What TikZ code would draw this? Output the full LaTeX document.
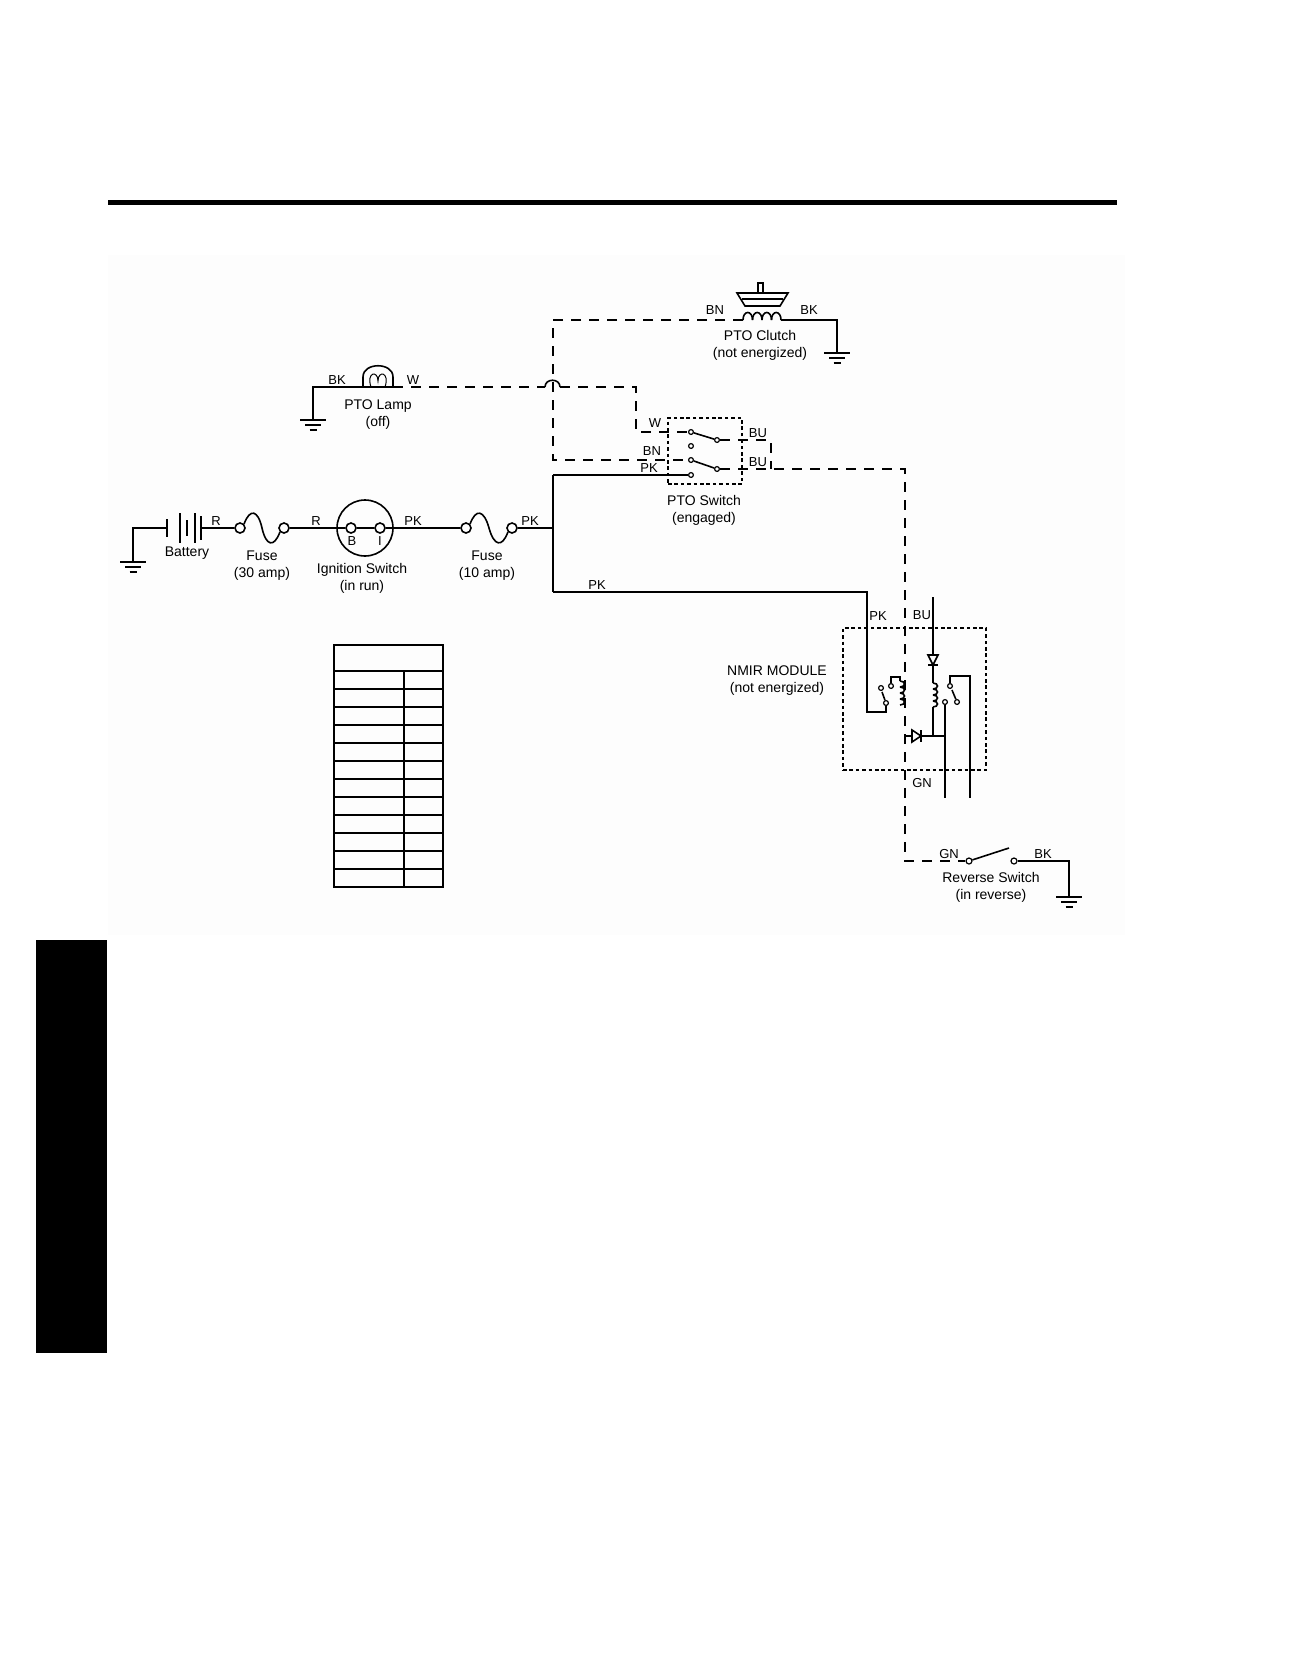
\documentclass[tikz,border=0pt]{standalone}
\usepackage{fontspec}
\setmainfont{Liberation Sans}
\usepackage{tikz}
\usetikzlibrary{positioning, calc}

\tikzset{
  wire/.style={line width=0.8pt},
  dwire/.style={line width=0.8pt, dash pattern=on 5pt off 4pt},
  dotbox/.style={draw, line width=0.75pt, dash pattern=on 1.8pt off 1.4pt, inner sep=0pt},
  fterm/.style={circle, draw, line width=0.8pt, fill=white, inner sep=0pt, minimum size=5pt},
  sterm/.style={circle, draw, line width=0.6pt, fill=white, inner sep=0pt, minimum size=2.4pt},
  lbl/.style={font=\fontsize{7}{8.5}\selectfont, align=center, inner sep=0pt},
  wlbl/.style={font=\fontsize{6.5}{7}\selectfont, inner sep=0pt},
  earth/.pic={
    \draw[wire] (-13,0) -- (13,0);
    \draw[wire] (-8,5) -- (8,5);
    \draw[wire] (-3.5,10) -- (3.5,10);
  }
}

\begin{document}
\begin{tikzpicture}[x=0.5pt, y=-0.5pt]
\useasboundingbox (0,0) rectangle (1296,1656);
\fill[black!0.8] (108,255) rectangle (1125,935);
\fill (108,200) rectangle (1117,205);
\fill (36,940) rectangle (107,1353);

% battery and fuses
\coordinate (gbat) at (133,562);
\coordinate (batL) at (167,528);
\coordinate (batR) at (201,528);
\pic at (gbat) {earth};
\draw[wire] (gbat) |- (batL);
\foreach \x/\h in {167/9, 180/15, 187/8, 195/15, 201/12}
  \draw[wire] (\x,528-\h) -- (\x,528+\h);

\node[fterm] (fa1) at (240,528) {};
\node[fterm] (fa2) at (284,528) {};
\draw[wire] (batR) -- (fa1);
\draw[wire] (fa1.north east) .. controls (250,508) and (258,510) .. (262,528)
  .. controls (266,546) and (274,548) .. (fa2.south west);

\node[draw, circle, wire, minimum size=28pt, inner sep=0pt] (ign) at (365,528) {};
\node[fterm] (ignB) at (351,528) {};
\node[fterm] (ignI) at (380,528) {};
\draw[wire] (fa2) -- (ignB);
\draw[wire] (ignB) -- (ignI);

\node[fterm] (fb1) at (466,528) {};
\node[fterm] (fb2) at (512,528) {};
\draw[wire] (ignI) -- (fb1);
\draw[wire] (fb1.north east) .. controls (476,508) and (484,510) .. (489,528)
  .. controls (494,546) and (502,548) .. (fb2.south west);

\coordinate (jn) at (553,528);
\coordinate (pkT) at (553,475);
\coordinate (pkB) at (553,592);
\draw[wire] (fb2) -- (jn);
\draw[wire] (pkT) -- (pkB);

\node[wlbl] (lr1) at (216,521) {R};
\node[wlbl] (lr2) at (316,521) {R};
\node[wlbl] (lpk1) at (413,521) {PK};
\node[wlbl] (lpk2) at (530,521) {PK};
\node[wlbl] (lb) at (352,541) {B};
\node[wlbl] (li) at (380,541) {I};
\node[lbl] (tbat) at (187,553) {Battery};
\node[lbl] (tfa) at (262,566) {Fuse\\(30 amp)};
\node[lbl] (tign) at (362,578) {Ignition Switch\\(in run)};
\node[lbl] (tfb) at (487,566) {Fuse\\(10 amp)};

% PTO switch
\node[dotbox, minimum width=37pt, minimum height=33pt] (ptosw) at (705,451) {};
\node[sterm] (swW) at (691,432) {};
\node[sterm] (swX) at (691,446) {};
\node[sterm] (swU1) at (717,440) {};
\node[sterm] (swBN) at (691,460) {};
\node[sterm] (swU2) at (717,469) {};
\node[sterm] (swPK) at (691,475) {};
\draw[wire] (swW) -- (swU1);
\draw[wire] (swBN) -- (swU2);
\draw[wire] (pkT) -- (swPK);
\node[wlbl] (lw2) at (655,423) {W};
\node[wlbl] (lbn2) at (652,451) {BN};
\node[wlbl] (lpk3) at (649,468) {PK};
\node[wlbl] (lbu1) at (758,433) {BU};
\node[wlbl] (lbu2) at (758,462) {BU};
\node[lbl] (tsw) at (704,510) {PTO Switch\\(engaged)};

% PTO clutch
\coordinate (clA) at (743,320);
\coordinate (clB) at (781,320);
\coordinate (bnC) at (553,320);
\coordinate (bnL) at (553,460);
\coordinate (gcl) at (837,353);
\foreach \i in {0,...,3}
  \draw[wire] (743+9.5*\i,320) .. controls (743+9.5*\i,310) and (752.5+9.5*\i,310) .. (752.5+9.5*\i,320);
\draw[wire] (737,293) -- (788,293) -- (780,306) -- (745,306) -- cycle;
\draw[wire] (742,299) -- (783,299);
\draw[wire] (758,283) rectangle (763,293);
\draw[dwire] (clA) -- (bnC) -- (bnL) -- (swBN);
\draw[wire] (clB) -| (gcl);
\pic at (gcl) {earth};
\node[wlbl] (lbn1) at (715,310) {BN};
\node[wlbl] (lbk1) at (809,310) {BK};
\node[lbl] (tcl) at (760,345) {PTO Clutch\\(not energized)};

% PTO lamp
\coordinate (lampL) at (363,387);
\coordinate (lampR) at (393,387);
\coordinate (glamp) at (313,420);
\draw[wire] (lampL) -- (363,377) .. controls (363,362) and (393,362) .. (393,377) -- (lampR) -- cycle;
\draw[line width=0.5pt] (371,387) .. controls (366,372) and (378,370) .. (378,381)
  .. controls (378,370) and (390,372) .. (385,387);
\draw[wire] (lampL) -| (glamp);
\pic at (glamp) {earth};
\node[wlbl] (lbk2) at (337,380) {BK};
\node[wlbl] (lw1) at (413,380) {W};
\node[lbl] (tlamp) at (378,415) {PTO Lamp\\(off)};

\coordinate (hopL) at (545,387);
\coordinate (hopR) at (560,387);
\coordinate (wT) at (636,387);
\coordinate (wB) at (636,432);
\draw[dwire] (lampR) -- (hopL);
\draw[wire] (hopL) .. controls (545,378) and (560,378) .. (hopR);
\draw[dwire] (hopR) -- (wT) -- (wB) -- (swW);

% NMIR module
\node[dotbox, minimum width=71.5pt, minimum height=71pt] (nmir) at (914.5,699) {};
\node[sterm] (rlA) at (881,688) {};
\node[sterm] (rlB) at (891,686) {};
\node[sterm] (rlP) at (886,703) {};
\coordinate (pkC) at (867,592);
\coordinate (pkD) at (867,712);
\coordinate (pkE) at (886,712);
\draw[wire] (pkB) -- (pkC) -- (pkD) -- (pkE) -- (rlP);
\draw[wire] (rlP) -- ++(-4,-11);
\draw[wire] (rlB) -- (891,677) -- (900,677) -- (900,681);
\foreach \i in {0,...,3}
  \draw[wire] (900,681+6*\i) .. controls (906,681+6*\i) and (906,687+6*\i) .. (900,687+6*\i);

\coordinate (rrT) at (933,597);
\coordinate (jct) at (933,736);
\coordinate (jct2) at (945,736);
\coordinate (d2a) at (906,736);
\draw[wire] (rrT) -- (933,655);
\draw[wire] (928,655) -- (938,655) -- (933,665) -- cycle;
\draw[wire] (928,665) -- (938,665);
\draw[wire] (933,665) -- (933,683);
\foreach \i in {0,...,3}
  \draw[wire] (933,683+6*\i) .. controls (939,683+6*\i) and (939,689+6*\i) .. (933,689+6*\i);
\draw[wire] (933,707) -- (jct);
\draw[wire] (d2a) -- (912,736);
\draw[wire] (912,730) -- (912,742) -- (921,736) -- cycle;
\draw[wire] (921,730) -- (921,742);
\draw[wire] (921,736) -- (jct2);

\node[sterm] (rrA) at (950,686) {};
\node[sterm] (rrC) at (945,702) {};
\node[sterm] (rrP) at (957,702) {};
\coordinate (outL) at (945,798);
\coordinate (outR) at (970,798);
\draw[wire] (rrP) -- ++(-5,-12);
\draw[wire] (rrA) -- (950,676) -- (970,676) -- (outR);
\draw[wire] (rrC) -- (outL);

\node[wlbl] (lpk4) at (597,585) {PK};
\node[wlbl] (lpk5) at (878,616) {PK};
\node[wlbl] (lbu3) at (922,615) {BU};
\node[wlbl] (lgn1) at (922,783) {GN};
\node[lbl] (tnmir) at (777,681) {NMIR MODULE\\(not energized)};

% BU / GN wire and reverse switch
\coordinate (buA) at (771,440);
\coordinate (buB) at (771,469);
\coordinate (buC) at (905,469);
\coordinate (gnC) at (905,861);
\coordinate (grv) at (1069,897);
\node[sterm, minimum size=3pt] (rvA) at (969,861) {};
\node[sterm, minimum size=3pt] (rvB) at (1014,861) {};
\draw[dwire] (swU1) -- (buA) -- (buB);
\draw[dwire] (swU2) -- (buC) -- (gnC) -- (rvA);
\draw[wire] (rvA) -- (1009,848);
\draw[wire] (rvB) -| (grv);
\pic at (grv) {earth};
\node[wlbl] (lgn2) at (949,854) {GN};
\node[wlbl] (lbk3) at (1043,854) {BK};
\node[lbl] (trv) at (991,887) {Reverse Switch\\(in reverse)};

% empty table
\draw[line width=0.8pt] (334,645) rectangle (443,887);
\foreach \y in {671,689,...,869}
  \draw[line width=0.8pt] (334,\y) -- (443,\y);
\draw[line width=0.8pt] (404,671) -- (404,887);
\end{tikzpicture}
\end{document}
